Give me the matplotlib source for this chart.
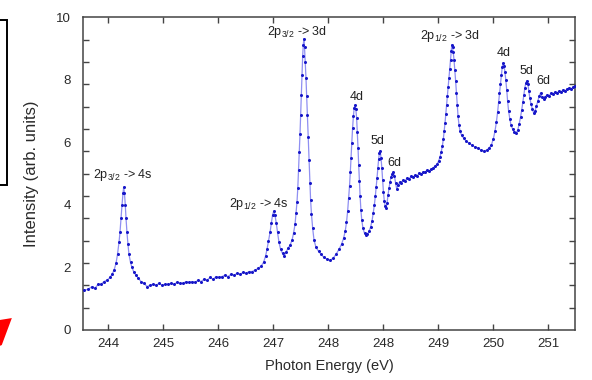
import numpy as np
import matplotlib
matplotlib.use("Agg")
import matplotlib.pyplot as plt
from matplotlib.patches import Rectangle, Polygon

plt.rcParams["font.family"] = ["Liberation Sans", "DejaVu Sans"]
plt.rcParams["mathtext.default"] = "regular"

# Photon energy (eV) and measured intensity (arb. units)
energy = [
    243.937, 243.997, 244.057, 244.101, 244.146, 244.191, 244.236, 244.280, 244.325, 244.355,
    244.385, 244.415, 244.437, 244.459, 244.474, 244.489, 244.504, 244.519, 244.529, 244.541,
    244.553, 244.564, 244.578, 244.593, 244.608, 244.631, 244.653, 244.683, 244.713, 244.750,
    244.787, 244.832, 244.877, 244.922, 244.966, 245.011, 245.056, 245.100, 245.145, 245.190,
    245.235, 245.279, 245.324, 245.369, 245.414, 245.458, 245.503, 245.548, 245.592, 245.637,
    245.682, 245.727, 245.771, 245.816, 245.861, 245.906, 245.950, 245.995, 246.040, 246.085,
    246.129, 246.174, 246.219, 246.263, 246.308, 246.353, 246.398, 246.442, 246.487, 246.532,
    246.577, 246.614, 246.644, 246.666, 246.688, 246.711, 246.730, 246.748, 246.766, 246.785,
    246.805, 246.823, 246.845, 246.868, 246.897, 246.920, 246.949, 246.979, 247.009, 247.039,
    247.061, 247.084, 247.098, 247.113, 247.125, 247.136, 247.146, 247.158, 247.168, 247.179,
    247.188, 247.198, 247.207, 247.215, 247.225, 247.236, 247.247, 247.258, 247.268, 247.280,
    247.292, 247.304, 247.316, 247.329, 247.347, 247.367, 247.397, 247.434, 247.471, 247.516,
    247.561, 247.605, 247.650, 247.695, 247.739, 247.777, 247.807, 247.832, 247.851, 247.868,
    247.883, 247.896, 247.908, 247.918, 247.930, 247.942, 247.954, 247.966, 247.978, 247.990,
    248.002, 248.012, 248.023, 248.033, 248.044, 248.054, 248.066, 248.079, 248.097, 248.120,
    248.142, 248.164, 248.187, 248.209, 248.231, 248.249, 248.266, 248.281, 248.294, 248.306,
    248.318, 248.330, 248.342, 248.354, 248.366, 248.378, 248.390, 248.402, 248.415, 248.428,
    248.442, 248.455, 248.470, 248.485, 248.500, 248.515, 248.530, 248.548, 248.566, 248.583,
    248.601, 248.619, 248.642, 248.664, 248.694, 248.724, 248.753, 248.783, 248.813, 248.843,
    248.873, 248.903, 248.932, 248.962, 248.992, 249.022, 249.052, 249.081, 249.111, 249.141,
    249.171, 249.201, 249.223, 249.245, 249.263, 249.280, 249.295, 249.308, 249.320, 249.332,
    249.344, 249.356, 249.368, 249.380, 249.392, 249.402, 249.413, 249.421, 249.432, 249.442,
    249.454, 249.466, 249.478, 249.490, 249.502, 249.514, 249.529, 249.544, 249.566, 249.596,
    249.633, 249.678, 249.723, 249.767, 249.812, 249.857, 249.901, 249.939, 249.976, 250.010,
    250.040, 250.065, 250.086, 250.104, 250.119, 250.132, 250.146, 250.159, 250.173, 250.186,
    250.200, 250.213, 250.226, 250.240, 250.253, 250.268, 250.286, 250.304, 250.327, 250.352,
    250.379, 250.404, 250.426, 250.446, 250.464, 250.480, 250.495, 250.510, 250.525, 250.540,
    250.555, 250.570, 250.584, 250.602, 250.622, 250.641, 250.662, 250.683, 250.704, 250.724,
    250.744, 250.766, 250.789, 250.811, 250.841, 250.871, 250.900, 250.930, 250.960, 250.990,
    251.020, 251.050, 251.079, 251.109, 251.139, 251.169, 251.199, 251.229, 251.251,
]

intensity = [
    1.27, 1.30, 1.39, 1.33, 1.46, 1.46, 1.55, 1.59, 1.68, 1.78,
    1.91, 2.13, 2.42, 2.80, 3.12, 3.57, 3.99, 4.37, 4.57, 4.37,
    3.99, 3.57, 3.12, 2.74, 2.42, 2.16, 2.00, 1.84, 1.75, 1.65,
    1.55, 1.49, 1.39, 1.43, 1.46, 1.43, 1.49, 1.43, 1.46, 1.46,
    1.49, 1.46, 1.52, 1.49, 1.49, 1.55, 1.52, 1.55, 1.52, 1.59,
    1.55, 1.62, 1.59, 1.68, 1.62, 1.71, 1.68, 1.71, 1.75, 1.71,
    1.78, 1.75, 1.81, 1.78, 1.84, 1.81, 1.87, 1.87, 1.91, 1.97,
    2.04, 2.16, 2.36, 2.58, 2.84, 3.12, 3.41, 3.67, 3.80, 3.67,
    3.41, 3.12, 2.80, 2.58, 2.45, 2.36, 2.49, 2.61, 2.71, 2.87,
    3.09, 3.38, 3.73, 4.09, 4.54, 5.11, 5.69, 6.27, 6.87, 7.52,
    8.16, 8.77, 9.12, 9.31, 9.05, 8.57, 8.06, 7.48, 6.87, 6.17,
    5.43, 4.70, 4.15, 3.70, 3.25, 2.87, 2.64, 2.52, 2.42, 2.32,
    2.26, 2.23, 2.29, 2.42, 2.58, 2.74, 2.93, 3.16, 3.44, 3.80,
    4.22, 4.60, 5.05, 5.50, 5.98, 6.46, 6.84, 7.10, 7.19, 7.07,
    6.78, 6.33, 5.82, 5.27, 4.76, 4.28, 3.83, 3.51, 3.25, 3.09,
    3.03, 3.06, 3.16, 3.28, 3.48, 3.73, 3.99, 4.28, 4.57, 4.86,
    5.18, 5.46, 5.66, 5.72, 5.50, 5.18, 4.79, 4.41, 4.12, 3.96,
    3.89, 4.05, 4.31, 4.54, 4.73, 4.89, 4.98, 5.05, 4.92, 4.70,
    4.50, 4.63, 4.73, 4.70, 4.79, 4.76, 4.86, 4.82, 4.92, 4.89,
    4.95, 4.92, 5.02, 4.98, 5.05, 5.05, 5.11, 5.08, 5.14, 5.18,
    5.24, 5.30, 5.40, 5.53, 5.69, 5.88, 6.11, 6.36, 6.62, 6.91,
    7.19, 7.48, 7.77, 8.06, 8.35, 8.64, 8.93, 9.12, 9.05, 8.89,
    8.64, 8.32, 7.97, 7.58, 7.19, 6.84, 6.55, 6.36, 6.23, 6.14,
    6.04, 5.98, 5.91, 5.85, 5.82, 5.75, 5.72, 5.75, 5.82, 5.91,
    6.11, 6.36, 6.65, 6.97, 7.29, 7.58, 7.87, 8.16, 8.41, 8.54,
    8.45, 8.25, 8.00, 7.68, 7.32, 7.00, 6.75, 6.55, 6.43, 6.33,
    6.30, 6.39, 6.59, 6.81, 7.04, 7.29, 7.52, 7.74, 7.90, 7.97,
    7.87, 7.64, 7.42, 7.23, 7.07, 6.94, 7.00, 7.16, 7.32, 7.48,
    7.58, 7.45, 7.39, 7.45, 7.52, 7.48, 7.58, 7.55, 7.61, 7.58,
    7.64, 7.61, 7.68, 7.64, 7.71, 7.74, 7.71, 7.77, 7.80,
]

# Transition labels and where they sit (energy, intensity)
peak_labels = [
    r"2p$_{3/2}$ -> 4s", r"2p$_{1/2}$ -> 4s", r"2p$_{3/2}$ -> 3d",
    "4d", "5d", "6d",
    r"2p$_{1/2}$ -> 3d", "4d", "5d", "6d",
]
label_energy = [244.51, 246.54, 247.11, 248.00, 248.32, 248.56, 249.40, 250.20, 250.54, 250.79]
label_intensity = [4.95, 4.02, 9.54, 7.46, 6.05, 5.35, 9.40, 8.85, 8.28, 7.95]

x_tick_labels = ["244", "245", "246", "247", "248", "248", "249", "250", "251"]
y_tick_labels = ["0", "2", "4", "6", "8", "10"]

fig = plt.figure(figsize=(5.92, 3.80), dpi=100)
ax = fig.add_axes([0.1407, 0.1316, 0.8306, 0.8229])

ax.plot(energy, intensity, color="#8f8ff2", lw=0.9, zorder=2)
ax.plot(energy, intensity, ls="none", marker="o", ms=2.2, mew=0,
        color="#1616c8", zorder=3)

for txt, ex, iy in zip(peak_labels, label_energy, label_intensity):
    ax.text(ex, iy, txt, ha="center", va="center", fontsize=9, color="#222222")

ax.set_xlim(243.927, 251.258)
ax.set_ylim(0, 10)

text_col = "#2a2a2a"
xt = np.linspace(244.3, 250.86, len(x_tick_labels))
ax.set_xticks(xt)
ax.set_xticklabels(x_tick_labels)
yt = np.linspace(0, 10, len(y_tick_labels))
ax.set_yticks(yt)
ax.set_yticklabels(y_tick_labels)
ax.set_yticks(np.linspace(0, 10, 15), minor=True)

ax.tick_params(axis="x", which="major", direction="in", top=True, bottom=True,
               length=4, width=1, color="#444444", labelsize=9.5,
               labelcolor=text_col, pad=6)
ax.tick_params(axis="y", which="major", length=0, labelsize=9.5,
               labelcolor=text_col, pad=9)
ax.tick_params(axis="y", which="minor", direction="in", left=True, right=True,
               length=4, width=1, color="#444444")

for s in ax.spines.values():
    s.set_color("#444444")
    s.set_linewidth(1.1)

ax.set_xlabel("Photon Energy (eV)", fontsize=10.5, color=text_col, labelpad=6)
ax.set_ylabel("Intensity (arb. units)", fontsize=12, color=text_col, labelpad=12)

# Edge of a neighbouring frame and a red pointer at the left margin
fig.add_artist(Rectangle((-0.02, 0.513), 0.0318, 0.434, transform=fig.transFigure,
                         fill=False, ec="black", lw=1.4))
fig.add_artist(Polygon([(0.0, 0.158), (0.020, 0.163), (0.003, 0.092), (0.0, 0.09)],
                       closed=True, transform=fig.transFigure, fc="#ff0000", ec="none"))

fig.savefig("out.png", dpi=100)
